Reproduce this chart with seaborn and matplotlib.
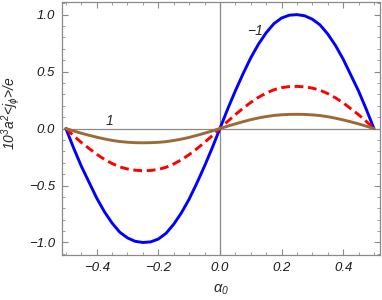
import pandas as pd
import matplotlib.pyplot as plt
import seaborn as sns
from matplotlib.ticker import MultipleLocator

# Datos
alpha0 = [-0.5, -0.475, -0.45, -0.425, -0.4, -0.375, -0.35, -0.325, -0.3, -0.275,
          -0.25, -0.225, -0.2, -0.175, -0.15, -0.125, -0.1, -0.075, -0.05, -0.025,
          0.0, 0.025, 0.05, 0.075, 0.1, 0.125, 0.15, 0.175, 0.2, 0.225,
          0.25, 0.275, 0.3, 0.325, 0.35, 0.375, 0.4, 0.425, 0.45, 0.475, 0.5]

j_menos1 = [0.0, -0.17, -0.33, -0.47, -0.61, -0.73, -0.83, -0.91, -0.96, -0.99,
            -1.0, -0.995, -0.97, -0.92, -0.84, -0.74, -0.62, -0.48, -0.33, -0.17,
            0.0, 0.17, 0.33, 0.48, 0.62, 0.74, 0.84, 0.92, 0.97, 0.995,
            1.0, 0.99, 0.96, 0.91, 0.83, 0.73, 0.61, 0.47, 0.33, 0.17, 0.0]

j_medio = [0.0, -0.063, -0.122, -0.174, -0.226, -0.27, -0.307, -0.337, -0.355, -0.366,
           -0.37, -0.368, -0.359, -0.34, -0.311, -0.274, -0.229, -0.178, -0.122, -0.063,
           0.0, 0.063, 0.122, 0.178, 0.229, 0.274, 0.311, 0.34, 0.359, 0.368,
           0.37, 0.366, 0.355, 0.337, 0.307, 0.27, 0.226, 0.174, 0.122, 0.063, 0.0]

j_mas1 = [0.0, -0.021, -0.041, -0.059, -0.076, -0.091, -0.104, -0.114, -0.12, -0.124,
          -0.125, -0.124, -0.121, -0.115, -0.105, -0.093, -0.078, -0.06, -0.041, -0.021,
          0.0, 0.021, 0.041, 0.06, 0.078, 0.093, 0.105, 0.115, 0.121, 0.124,
          0.125, 0.124, 0.12, 0.114, 0.104, 0.091, 0.076, 0.059, 0.041, 0.021, 0.0]

df = pd.DataFrame({"alpha0": alpha0, "m1": j_menos1, "mid": j_medio, "p1": j_mas1})

sns.set_style("ticks")
plt.rcParams["font.family"] = ["Liberation Sans", "DejaVu Sans"]
plt.rcParams["mathtext.fontset"] = "custom"
plt.rcParams["mathtext.it"] = "Liberation Sans:italic"
plt.rcParams["mathtext.rm"] = "Liberation Sans:italic"

fig = plt.figure(figsize=(3.82, 3.0), dpi=100)
ax = fig.add_axes([0.162, 0.15, 0.833, 0.843])

gris = "#8a8a8a"
ax.axhline(0, color=gris, lw=0.9, zorder=1)
ax.axvline(0, color=gris, lw=0.9, zorder=1)

sns.lineplot(data=df, x="alpha0", y="m1", color="#0000ff", lw=2.1, ax=ax)
sns.lineplot(data=df, x="alpha0", y="mid", color="#ff0000", lw=2.1, ax=ax)
ax.lines[-1].set_dashes([3, 1.6])
sns.lineplot(data=df, x="alpha0", y="p1", color="#9c6a36", lw=2.1, ax=ax)

ax.set_xlim(-0.513, 0.52)
ax.set_ylim(-1.11, 1.11)
ax.xaxis.set_major_locator(MultipleLocator(0.2))
ax.xaxis.set_minor_locator(MultipleLocator(0.05))
ax.yaxis.set_major_locator(MultipleLocator(0.5))
ax.yaxis.set_minor_locator(MultipleLocator(0.1))
ax.tick_params(which="both", direction="in", color=gris, top=True, right=True,
               labeltop=False, labelright=False)
ax.tick_params(which="major", length=4, width=0.8, labelsize=9.5, labelcolor="#1a1a1a", pad=5)
ax.tick_params(which="minor", length=2.2, width=0.6)
for lab in ax.get_xticklabels() + ax.get_yticklabels():
    lab.set_style("italic")
for s in ax.spines.values():
    s.set_color(gris)
    s.set_linewidth(0.9)

ax.set_xlabel(r"$\alpha_0$", fontsize=10.5, labelpad=6)
ax.set_ylabel(r"$10^3a^2$<$j_\phi$>$/e$", fontsize=10, style="italic")
ax.yaxis.set_label_coords(-0.125, 0.56)

ax.text(0.115, 0.86, "−1", fontsize=10, style="italic", ha="center", va="center")
ax.text(-0.357, 0.065, "1", fontsize=10, style="italic", ha="center", va="center")

plt.savefig("out.png", dpi=100)
